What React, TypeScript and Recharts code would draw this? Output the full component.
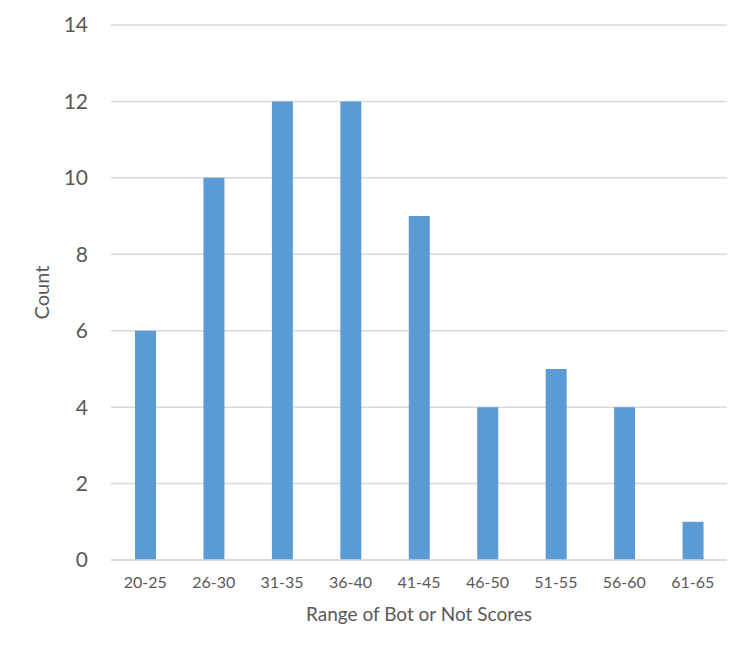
import React from 'react';
import { BarChart, Bar, XAxis, YAxis, CartesianGrid } from 'recharts';

const categories = ['20-25', '26-30', '31-35', '36-40', '41-45', '46-50', '51-55', '56-60', '61-65'];
const counts = [6, 10, 12, 12, 9, 4, 5, 4, 1];
const yTicks = [0, 2, 4, 6, 8, 10, 12, 14];

const data = categories.map((c, i) => ({ range: c, count: counts[i] }));

const FONT = 'Lato, "Open Sans", sans-serif';
const TEXT = '#595959';
const GRID = '#D9D9D9';

export default function App() {
  return (
    <div style={{ position: 'absolute', left: 0, top: 0, width: 750, height: 653, background: '#fff' }}>
      <BarChart
        width={750}
        height={653}
        data={data}
        margin={{ top: 25, right: 23, bottom: 0, left: 0 }}
        barSize={21}
      >
        <CartesianGrid vertical={false} stroke={GRID} strokeWidth={1.5} />
        <XAxis
          dataKey="range"
          height={93}
          tickLine={false}
          tickSize={0}
          tickMargin={17}
          axisLine={{ stroke: GRID, strokeWidth: 1.5 }}
          tick={{ fill: TEXT, fontSize: 16, fontFamily: FONT }}
          interval={0}
          label={{ value: 'Range of Bot or Not Scores', position: 'center', dy: 8, fill: TEXT, fontSize: 19, fontFamily: FONT }}
        />
        <YAxis
          width={111}
          domain={[0, 14]}
          ticks={yTicks}
          tickLine={false}
          axisLine={false}
          tickSize={0}
          tickMargin={23}
          tick={{ fill: TEXT, fontSize: 21, fontFamily: FONT }}
          label={{ value: 'Count', angle: -90, position: 'center', dx: -14, fill: TEXT, fontSize: 20, fontFamily: FONT }}
        />
        <Bar dataKey="count" fill="#5B9BD5" isAnimationActive={false} />
      </BarChart>
    </div>
  );
}
